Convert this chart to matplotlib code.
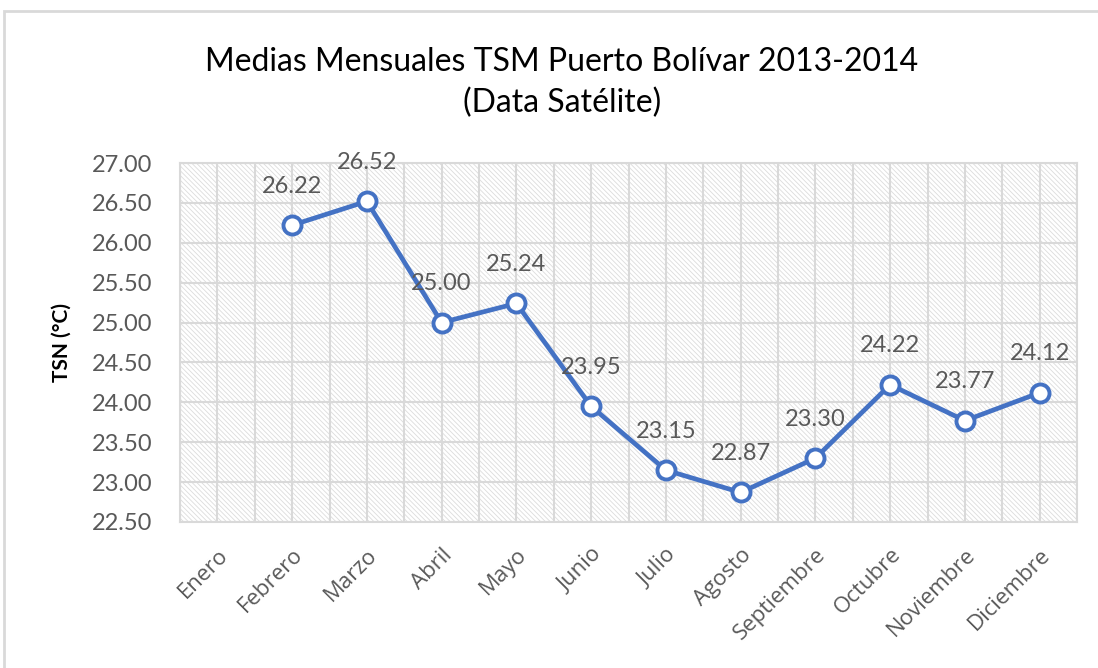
import numpy as np
import matplotlib
matplotlib.use('Agg')
import matplotlib.pyplot as plt
from matplotlib.patches import Rectangle

plt.rcParams['font.family'] = ['Lato', 'DejaVu Sans']
plt.rcParams['hatch.color'] = '#dcdcdc'
plt.rcParams['hatch.linewidth'] = 0.6

# data
months = ['Enero', 'Febrero', 'Marzo', 'Abril', 'Mayo', 'Junio', 'Julio',
          'Agosto', 'Septiembre', 'Octubre', 'Noviembre', 'Diciembre']
tsm = [np.nan, 26.22, 26.52, 25.00, 25.24, 23.95, 23.15, 22.87, 23.30, 24.22, 23.77, 24.12]
y_ticks = [22.5, 23.0, 23.5, 24.0, 24.5, 25.0, 25.5, 26.0, 26.5, 27.0]

fig = plt.figure(figsize=(10.98, 6.68), dpi=100)
# outer chart border
fig.patches.append(Rectangle((4 / 1098, -0.01), 1.02, 1 - 11 / 668 + 0.01,
                             transform=fig.transFigure, fill=False,
                             edgecolor='#d9d9d9', linewidth=2))

ax = fig.add_axes([180 / 1098, 1 - 522 / 668, (1077 - 180) / 1098, (522 - 163) / 668])
x = np.arange(len(months))

# hatched plot area background
ax.add_patch(Rectangle((0, 0), 1, 1, transform=ax.transAxes, facecolor='white',
                       edgecolor='#dcdcdc', hatch='\\' * 7, linewidth=0, zorder=0))

ax.set_xlim(-0.5, len(months) - 0.5)
ax.set_ylim(22.5, 27.0)
ax.set_yticks(y_ticks)
ax.set_yticklabels([f'{v:.2f}' for v in y_ticks])
ax.set_xticks(x)
ax.set_xticks(np.arange(-0.5, len(months), 1.0), minor=True)
ax.set_xticklabels(months, rotation=45, ha='right', rotation_mode='anchor',
                   fontfamily=['Open Sans', 'DejaVu Sans'], fontsize=16)

ax.grid(True, which='both', axis='x', color='#d9d9d9', linewidth=1.5, zorder=1)
ax.grid(True, which='major', axis='y', color='#d9d9d9', linewidth=1.5, zorder=1)
ax.set_axisbelow(True)
for s in ax.spines.values():
    s.set_color('#d9d9d9')
    s.set_linewidth(1.5)
ax.tick_params(which='both', length=0, colors='#595959')
ax.tick_params(axis='y', labelsize=17, pad=20)
ax.tick_params(axis='x', pad=16)

ax.plot(x, tsm, color='#4472C4', linewidth=3.4, marker='o', markersize=13,
        markerfacecolor='white', markeredgecolor='#4472C4', markeredgewidth=2.8,
        zorder=3)

for xi, v in zip(x, tsm):
    if np.isnan(v):
        continue
    ax.annotate(f'{v:.2f}', (xi, v), xytext=(0, 28), textcoords='offset points',
                ha='center', va='center', fontsize=17, color='#595959', zorder=4)

ax.set_ylabel('TSN (°C)', fontsize=15, fontweight='bold', color='black', labelpad=14)

fig.text(562 / 1098, 1 - 62 / 668, 'Medias Mensuales TSM Puerto Bolívar 2013-2014',
         ha='center', va='center', fontsize=23, color='black')
fig.text(562 / 1098, 1 - 103 / 668, '(Data Satélite)',
         ha='center', va='center', fontsize=23, color='black')

fig.savefig('out.png', dpi=100)
